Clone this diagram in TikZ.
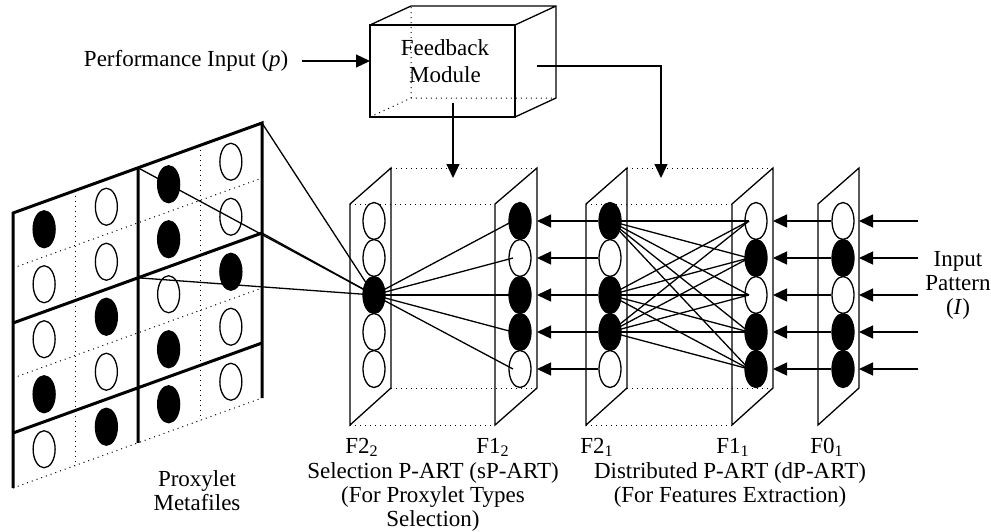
\documentclass[tikz,border=0pt]{standalone}
\usepackage{fontspec}
\setmainfont{Liberation Serif}
\usetikzlibrary{shapes.geometric}
\usetikzlibrary{arrows.meta}
\usetikzlibrary{calc}

\begin{document}
\begin{tikzpicture}[x=0.5pt, y=-0.5pt, line width=0.65pt,
		unit/.style={ellipse, draw, line width=0.65pt, minimum width=11pt, minimum height=18.5pt, inner sep=0pt},
		fired/.style={unit, fill=black},
		idle/.style={unit, fill=white},
		thickline/.style={line width=1.5pt},
		backline/.style={dotted, line width=0.5pt},
		arr/.style={-{Triangle[length=7pt, width=6.5pt]}},
		lbl/.style={font=\fontsize{11.5}{12}\selectfont, inner sep=0pt, align=center}]
			\useasboundingbox (0,0) rectangle (991,531);
			% \draw[very thin, gray, dashed](0,0)grid[step=50](991,531);

			% proxylet metafiles
			\draw[backline] (13,268)--(262,178) (13,378)--(262,288) (13,488)--(262,398);
			\draw[backline] (75,190.6)--(75,465.6) (200,145.4)--(200,420.4);
			\draw[thickline] (13,488)--(13,213)--(262,123)--(262,398);
			\draw[thickline] (13,323)--(262,233) (13,433)--(262,343) (138,167.8)--(138,442.8);

			\coordinate (mc-a) at (262,123);
			\coordinate (mc-b) at (138,167.8);
			\coordinate (mc-c) at (262,233);
			\coordinate (mc-d) at (138,277.8);

			\foreach \c/\pattern in {0/{fired,idle,idle,fired,idle}, 1/{idle,idle,fired,idle,fired}, 2/{fired,fired,idle,fired,fired}, 3/{idle,idle,fired,idle,idle}}{
				\foreach \s [count=\r from 0] in \pattern{
					\pgfmathsetmacro{\xc}{13+62.25*(\c+0.5)}
					\pgfmathsetmacro{\yc}{213+55*(\r+0.5)-0.36145*(\xc-13)}
					\node[\s] (m\c-\r) at (\xc,\yc) {};
				}
			}

			% layer panels
			\foreach \f/\b in {350/391, 495/537, 586/627, 732/773, 818/859}
				\draw (\f,425)--(\f,204)--(\b,168)--(\b,388)--cycle;
			\foreach \a/\b/\c/\d in {350/391/495/537, 586/627/732/773}
				\draw[backline] (\a,204)--(\c,204) (\b,168)--(\d,168) (\a,425)--(\c,425) (\b,388)--(\d,388);

			\coordinate (p12) at (537,168);
			\coordinate (p11) at (773,168);
			\coordinate (p01) at (859,168);

			\foreach \lay/\x/\pattern in {f22/374/{idle,idle,fired,idle,idle}, f12/520/{fired,idle,fired,fired,idle}, f21/610/{fired,idle,fired,fired,idle}, f11/756/{idle,fired,idle,fired,fired}, f01/843/{idle,fired,idle,fired,fired}}
				\foreach \s [count=\k] in \pattern
					\node[\s] (\lay-\k) at (\x,184+37*\k) {};

			% weights and signals
			\foreach \m in {a,b,c,d}
				\draw (f22-3.center)--(mc-\m);
			\foreach \k in {1,...,5}{
				\coordinate (in-\k) at (918,184+37*\k);
				\draw (f22-3.center)--([xshift=-3.5pt]f12-\k.center);
				\foreach \j in {1,3,4}
					\draw (f21-\j.center)--([xshift=-3.5pt]f11-\k.center);
				\draw[arr] (f21-\k.west)--(f21-\k -| p12);
				\draw[arr] (f01-\k.west)--(f01-\k -| p11);
				\draw[arr] (in-\k)--(in-\k -| p01);
			}

			% feedback module
			\coordinate (fb-a) at (370,25);
			\draw (fb-a) rectangle (515,117);
			\draw (fb-a)--(411,6)--(556,6)--(556,98)--(515,117) (515,25)--(556,6);
			\draw[backline] (370,117)--(411,98)--(556,98) (411,98)--(411,6);
			\node[lbl] (fb) at (445,61) {Feedback\\[1.5pt]Module};

			\coordinate (fb-o1) at (453,103);
			\coordinate (sp-in) at (453,178);
			\coordinate (fb-o2) at (537,66);
			\coordinate (dp-in) at (661,178);
			\draw[arr] (fb-o1)--(sp-in);
			\draw[arr] (fb-o2)-|(dp-in);

			\node[lbl, anchor=east, inner xsep=6.5pt] (perf) at (302,61) {Performance Input (\textit{p})};
			\draw[arr] (perf.east)--(perf.east -| fb-a);

			% labels
			\node[lbl, anchor=base] (l22) at (362,453) {F2\textsubscript{2}};
			\node[lbl, anchor=base] (l12) at (493,453) {F1\textsubscript{2}};
			\node[lbl, anchor=base] (l21) at (597,453) {F2\textsubscript{1}};
			\node[lbl, anchor=base] (l11) at (733,453) {F1\textsubscript{1}};
			\node[lbl, anchor=base] (l01) at (827,453) {F0\textsubscript{1}};

			\node[lbl, anchor=north] (sel) at (433,462) {Selection P-ART (sP-ART)\\(For Proxylet Types\\Selection)};
			\node[lbl, anchor=north] (dist) at (730,462) {Distributed P-ART (dP-ART)\\(For Features Extraction)};
			\node[lbl, anchor=north] (meta) at (197,470) {Proxylet\\Metafiles};
			\node[lbl, anchor=north] (inp) at (958,251) {Input\\Pattern\\(\textit{I})};
		\end{tikzpicture}
\end{document}
